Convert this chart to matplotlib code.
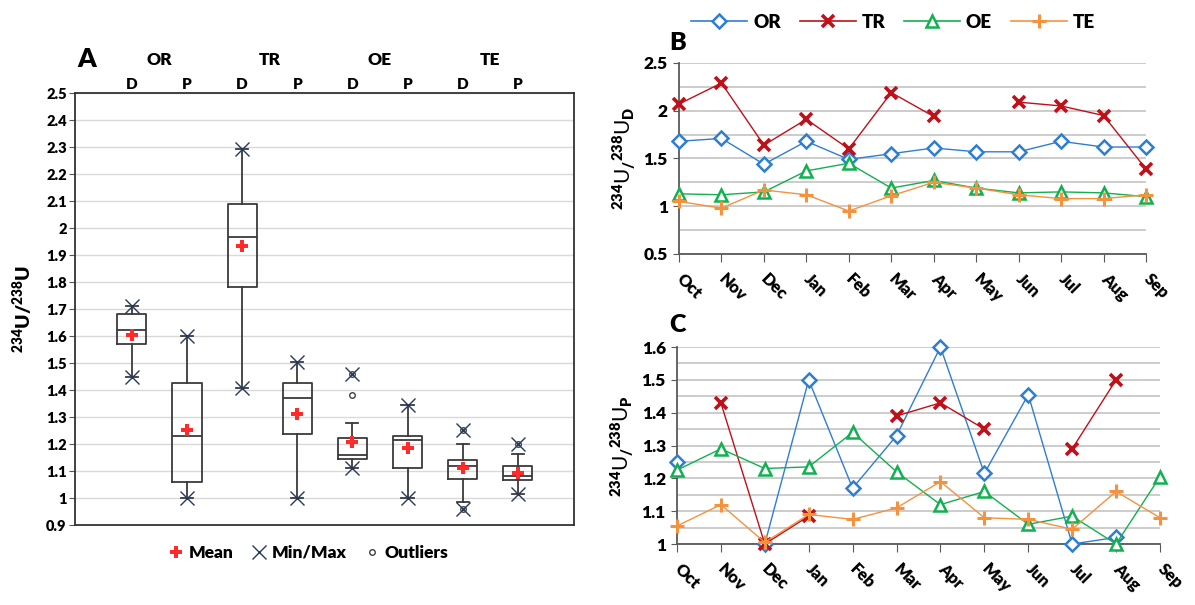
import numpy as np
import matplotlib
matplotlib.use('Agg')
import matplotlib.pyplot as plt
from matplotlib.lines import Line2D
from matplotlib.ticker import MultipleLocator, FuncFormatter

W = 'heavy'
plt.rcParams['font.family'] = ['Lato', 'DejaVu Sans']
plt.rcParams['font.weight'] = W
plt.rcParams['mathtext.fontset'] = 'custom'
plt.rcParams['mathtext.rm'] = 'Lato:heavy'
plt.rcParams['mathtext.bf'] = 'Lato:heavy'
plt.rcParams['mathtext.it'] = 'Lato:heavy'

nan = np.nan

# ---- panel A : box plots ----
groups = ['OR', 'TR', 'OE', 'TE']
box_names = ['D', 'P', 'D', 'P', 'D', 'P', 'D', 'P']
q1 = [1.569, 1.061, 1.781, 1.238, 1.146, 1.113, 1.071, 1.068]
med = [1.621, 1.231, 1.965, 1.369, 1.159, 1.215, 1.118, 1.080]
q3 = [1.681, 1.425, 2.088, 1.425, 1.221, 1.231, 1.140, 1.119]
whislo = [1.449, 0.999, 1.409, 1.000, 1.111, 1.000, 0.986, 1.015]
whishi = [1.713, 1.599, 2.294, 1.503, 1.278, 1.343, 1.199, 1.164]
means = [1.605, 1.253, 1.934, 1.311, 1.206, 1.184, 1.111, 1.094]
mins = [1.449, 0.999, 1.409, 1.000, 1.111, 1.000, 0.961, 1.015]
maxs = [1.713, 1.599, 2.294, 1.503, 1.461, 1.343, 1.253, 1.199]
outliers = [[], [], [], [], [1.38, 1.461], [], [1.253, 0.961], [1.199]]

# ---- panels B and C : monthly series ----
months = ['Oct', 'Nov', 'Dec', 'Jan', 'Feb', 'Mar', 'Apr', 'May', 'Jun', 'Jul', 'Aug', 'Sep']
or_d = [1.68, 1.71, 1.44, 1.68, 1.49, 1.55, 1.61, 1.57, 1.57, 1.68, 1.62, 1.62]
tr_d = [2.07, 2.29, 1.64, 1.91, 1.60, 2.19, 1.94, nan, 2.09, 2.05, 1.95, 1.39]
oe_d = [1.13, 1.12, 1.15, 1.37, 1.45, 1.19, 1.27, 1.19, 1.14, 1.15, 1.14, 1.10]
te_d = [1.05, 0.98, 1.17, 1.12, 0.95, 1.11, 1.25, 1.19, 1.12, 1.08, 1.08, 1.12]

or_p = [1.25, nan, 1.00, 1.50, 1.17, 1.33, 1.60, 1.215, 1.455, 1.00, 1.02, nan]
tr_p = [nan, 1.43, 1.00, 1.085, nan, 1.39, 1.43, 1.35, nan, 1.29, 1.50, nan]
oe_p = [1.225, 1.29, 1.23, 1.235, 1.34, 1.22, 1.12, 1.16, 1.06, 1.085, 1.0, 1.205]
te_p = [1.055, 1.12, 1.005, 1.09, 1.075, 1.11, 1.19, 1.08, 1.075, 1.045, 1.16, 1.08]

c_or = '#2e7fcf'
c_tr = '#c0101a'
c_oe = '#12b050'
c_te = '#f5923e'
navy = '#27385e'

fig = plt.figure(figsize=(11.95, 6.05), dpi=100)

#########################################################################
axA = fig.add_axes([0.0628, 0.1322, 0.4176, 0.714])
pos = np.arange(len(box_names))
stats = []
for i in range(len(box_names)):
    stats.append(dict(med=med[i], q1=q1[i], q3=q3[i], whislo=whislo[i],
                      whishi=whishi[i], mean=means[i], fliers=[]))
axA.bxp(stats, positions=pos, widths=0.53, capwidths=0.22, showfliers=False,
        boxprops=dict(color='#3a3a3a', linewidth=1.3),
        medianprops=dict(color='#3a3a3a', linewidth=1.3),
        whiskerprops=dict(color='#3a3a3a', linewidth=1.3),
        capprops=dict(color='#3a3a3a', linewidth=1.3))
for i in range(len(box_names)):
    if outliers[i]:
        axA.plot([pos[i]] * len(outliers[i]), outliers[i], 'o', mfc='white',
                 mec='#404040', mew=1.0, ms=4, zorder=4)
axA.plot(pos, mins, 'x', color=navy, ms=10, mew=1.0, zorder=5)
axA.plot(pos, maxs, 'x', color=navy, ms=10, mew=1.0, zorder=5)
axA.plot(pos, means, 'P', color='#ff2a2a', ms=9, mew=0, zorder=6)

axA.set_xlim(-1.03, 8.02)
axA.set_ylim(0.9, 2.5)
axA.yaxis.set_major_locator(MultipleLocator(0.1))
axA.yaxis.set_major_formatter(FuncFormatter(lambda v, p: '%g' % round(v, 1)))
axA.set_xticks([])
axA.grid(axis='y', color='#d9d9d9', linewidth=1.0)
axA.set_axisbelow(True)
for s in axA.spines.values():
    s.set_color('#333333')
    s.set_linewidth(1.3)
axA.tick_params(axis='y', labelsize=10.5, length=4, color='#555555', pad=2)
for lab in axA.get_yticklabels():
    lab.set_fontweight(W)
axA.set_ylabel(r'$^{234}$U/$^{238}$U', fontsize=14, fontweight=W, labelpad=8)

for i, n in enumerate(box_names):
    axA.text(pos[i], 1.004, n, transform=axA.get_xaxis_transform(), ha='center',
             va='bottom', fontsize=11, fontweight=W)
for g in range(len(groups)):
    axA.text(2 * g + 0.5, 1.077, groups[g], transform=axA.get_xaxis_transform(),
             ha='center', va='center', fontsize=12.5, fontweight=W)
axA.text(-0.98, 1.078, 'A', transform=axA.get_xaxis_transform(), ha='left',
         va='center', fontsize=19, fontweight=W)

hA = [Line2D([], [], ls='none', marker='P', color='#ff2a2a', ms=8, mew=0),
      Line2D([], [], ls='none', marker='x', color=navy, ms=10, mew=1.0),
      Line2D([], [], ls='none', marker='o', mfc='white', mec='#404040', ms=4, mew=1.0)]
fig.legend(hA, ['Mean', 'Min/Max', 'Outliers'], loc='center', ncol=3,
           bbox_to_anchor=(308 / 1195, 1 - 553 / 605), frameon=False,
           prop=dict(size=12.5, weight=W), handlelength=1.0,
           handletextpad=0.2, columnspacing=1.0)

#########################################################################
def month_panel(ax, series, ylim, major, minor):
    x = np.arange(len(months))
    ax.plot(x, series[0], color=c_or, lw=1.0, marker='D', ms=7, mfc='white',
            mec=c_or, mew=1.8, clip_on=False, zorder=3)
    ax.plot(x, series[1], color=c_tr, lw=1.0, marker='x', ms=9, mec=c_tr,
            mew=2.6, clip_on=False, zorder=3)
    ax.plot(x, series[2], color=c_oe, lw=1.0, marker='^', ms=9, mfc='white',
            mec=c_oe, mew=1.8, clip_on=False, zorder=3)
    ax.plot(x, series[3], color=c_te, lw=1.0, marker='+', ms=10, mec=c_te,
            mew=2.2, clip_on=False, zorder=3)
    ax.set_xlim(0, len(months) - 1)
    ax.set_ylim(*ylim)
    ax.set_xticks(x)
    ax.set_xticklabels(months, rotation=-45, rotation_mode='anchor',
                       ha='left', va='center', fontsize=12, fontweight=W)
    ax.yaxis.set_major_locator(MultipleLocator(major))
    ax.yaxis.set_minor_locator(MultipleLocator(minor))
    ax.yaxis.set_major_formatter(FuncFormatter(lambda v, p: '%g' % round(v, 2)))
    for lab in ax.get_yticklabels():
        lab.set_fontweight(W)
    ax.grid(axis='y', which='both', color='#c4c4c4', linewidth=1.2)
    ax.set_axisbelow(True)
    ax.spines['top'].set_visible(False)
    ax.spines['right'].set_visible(False)
    ax.spines['left'].set_color('#595959')
    ax.spines['bottom'].set_color('#595959')
    ax.spines['left'].set_linewidth(1.3)
    ax.spines['bottom'].set_linewidth(1.3)
    ax.tick_params(axis='x', length=6, color='#595959', pad=10)
    ax.tick_params(axis='y', which='major', length=4, color='#595959', labelsize=12.5, pad=4)
    ax.tick_params(axis='y', which='minor', length=0)

axB = fig.add_axes([0.5682, 0.5802, 0.3908, 0.3157])
month_panel(axB, [or_d, tr_d, oe_d, te_d], (0.5, 2.5), 0.5, 0.25)
axB.set_ylabel(r'$^{234}$U$_{/}$$^{238}$U$_{D}$', fontsize=15, labelpad=4)
axB.text(-0.02, 1.105, 'B', transform=axB.transAxes, ha='left', va='center',
         fontsize=18, fontweight=W)

axC = fig.add_axes([0.5665, 0.1008, 0.4042, 0.3256])
month_panel(axC, [or_p, tr_p, oe_p, te_p], (1.0, 1.6), 0.1, 0.05)
axC.set_ylabel(r'$^{234}$U$_{/}$$^{238}$U$_{P}$', fontsize=15, labelpad=4)
axC.text(-0.015, 1.11, 'C', transform=axC.transAxes, ha='left', va='center',
         fontsize=18, fontweight=W)

hB = [Line2D([], [], color=c_or, lw=1.2, marker='D', ms=7, mfc='white', mec=c_or, mew=1.8),
      Line2D([], [], color=c_tr, lw=1.2, marker='x', ms=9, mec=c_tr, mew=2.6),
      Line2D([], [], color=c_oe, lw=1.2, marker='^', ms=9, mfc='white', mec=c_oe, mew=1.8),
      Line2D([], [], color=c_te, lw=1.2, marker='+', ms=10, mec=c_te, mew=2.2)]
fig.legend(hB, groups, loc='center', ncol=4, bbox_to_anchor=(893 / 1195, 1 - 22 / 605),
           frameon=False, prop=dict(size=13.5, weight=W), handlelength=3.0,
           handletextpad=0.3, columnspacing=1.0)

plt.savefig('out.png', dpi=100)
